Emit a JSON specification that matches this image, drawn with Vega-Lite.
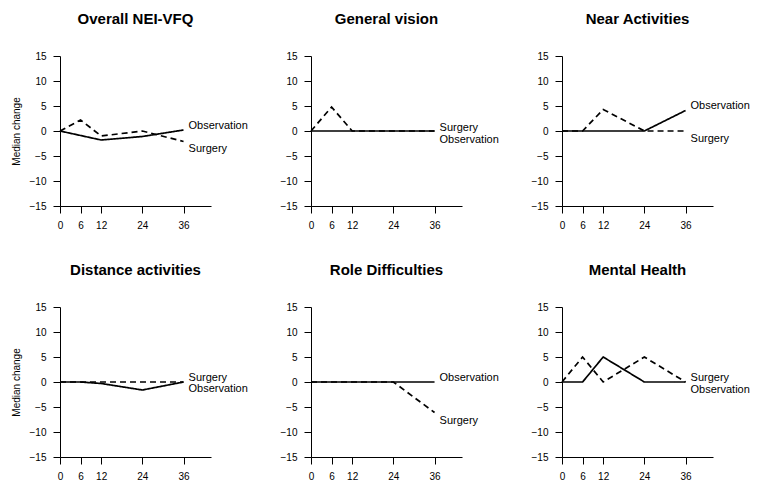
{
  "$schema": "https://vega.github.io/schema/vega-lite/v6.json",
  "padding": {"left": 11, "top": 12, "right": 5, "bottom": 5},
  "data": {"values": [
    {"kind": "line", "panel": "Overall NEI-VFQ", "series": "Observation", "month": 0, "value": 0},
    {"kind": "line", "panel": "Overall NEI-VFQ", "series": "Observation", "month": 6, "value": -0.9},
    {"kind": "line", "panel": "Overall NEI-VFQ", "series": "Observation", "month": 12, "value": -1.8},
    {"kind": "line", "panel": "Overall NEI-VFQ", "series": "Observation", "month": 24, "value": -1.1},
    {"kind": "line", "panel": "Overall NEI-VFQ", "series": "Observation", "month": 36, "value": 0.2},
    {"kind": "line", "panel": "Overall NEI-VFQ", "series": "Surgery", "month": 0, "value": 0},
    {"kind": "line", "panel": "Overall NEI-VFQ", "series": "Surgery", "month": 6, "value": 2.2},
    {"kind": "line", "panel": "Overall NEI-VFQ", "series": "Surgery", "month": 12, "value": -1.0},
    {"kind": "line", "panel": "Overall NEI-VFQ", "series": "Surgery", "month": 24, "value": 0},
    {"kind": "line", "panel": "Overall NEI-VFQ", "series": "Surgery", "month": 36, "value": -2.1},
    {"kind": "label", "panel": "Overall NEI-VFQ", "series": "Observation", "month": 36, "value": 1.0},
    {"kind": "label", "panel": "Overall NEI-VFQ", "series": "Surgery", "month": 36, "value": -3.6},

    {"kind": "line", "panel": "General vision", "series": "Observation", "month": 0, "value": 0},
    {"kind": "line", "panel": "General vision", "series": "Observation", "month": 6, "value": 0},
    {"kind": "line", "panel": "General vision", "series": "Observation", "month": 12, "value": 0},
    {"kind": "line", "panel": "General vision", "series": "Observation", "month": 24, "value": 0},
    {"kind": "line", "panel": "General vision", "series": "Observation", "month": 36, "value": 0},
    {"kind": "line", "panel": "General vision", "series": "Surgery", "month": 0, "value": 0},
    {"kind": "line", "panel": "General vision", "series": "Surgery", "month": 6, "value": 4.8},
    {"kind": "line", "panel": "General vision", "series": "Surgery", "month": 12, "value": 0},
    {"kind": "line", "panel": "General vision", "series": "Surgery", "month": 24, "value": 0},
    {"kind": "line", "panel": "General vision", "series": "Surgery", "month": 36, "value": 0},
    {"kind": "label", "panel": "General vision", "series": "Surgery", "month": 36, "value": 0.7},
    {"kind": "label", "panel": "General vision", "series": "Observation", "month": 36, "value": -1.7},

    {"kind": "line", "panel": "Near Activities", "series": "Observation", "month": 0, "value": 0},
    {"kind": "line", "panel": "Near Activities", "series": "Observation", "month": 6, "value": 0},
    {"kind": "line", "panel": "Near Activities", "series": "Observation", "month": 12, "value": 0},
    {"kind": "line", "panel": "Near Activities", "series": "Observation", "month": 24, "value": 0},
    {"kind": "line", "panel": "Near Activities", "series": "Observation", "month": 36, "value": 4.1},
    {"kind": "line", "panel": "Near Activities", "series": "Surgery", "month": 0, "value": 0},
    {"kind": "line", "panel": "Near Activities", "series": "Surgery", "month": 6, "value": 0},
    {"kind": "line", "panel": "Near Activities", "series": "Surgery", "month": 12, "value": 4.3},
    {"kind": "line", "panel": "Near Activities", "series": "Surgery", "month": 24, "value": 0},
    {"kind": "line", "panel": "Near Activities", "series": "Surgery", "month": 36, "value": 0},
    {"kind": "label", "panel": "Near Activities", "series": "Observation", "month": 36, "value": 5.1},
    {"kind": "label", "panel": "Near Activities", "series": "Surgery", "month": 36, "value": -1.6},

    {"kind": "line", "panel": "Distance activities", "series": "Observation", "month": 0, "value": 0},
    {"kind": "line", "panel": "Distance activities", "series": "Observation", "month": 6, "value": 0},
    {"kind": "line", "panel": "Distance activities", "series": "Observation", "month": 12, "value": -0.3},
    {"kind": "line", "panel": "Distance activities", "series": "Observation", "month": 24, "value": -1.6},
    {"kind": "line", "panel": "Distance activities", "series": "Observation", "month": 36, "value": 0},
    {"kind": "line", "panel": "Distance activities", "series": "Surgery", "month": 0, "value": 0},
    {"kind": "line", "panel": "Distance activities", "series": "Surgery", "month": 6, "value": 0},
    {"kind": "line", "panel": "Distance activities", "series": "Surgery", "month": 12, "value": 0},
    {"kind": "line", "panel": "Distance activities", "series": "Surgery", "month": 24, "value": 0},
    {"kind": "line", "panel": "Distance activities", "series": "Surgery", "month": 36, "value": 0},
    {"kind": "label", "panel": "Distance activities", "series": "Surgery", "month": 36, "value": 0.9},
    {"kind": "label", "panel": "Distance activities", "series": "Observation", "month": 36, "value": -1.4},

    {"kind": "line", "panel": "Role Difficulties", "series": "Observation", "month": 0, "value": 0},
    {"kind": "line", "panel": "Role Difficulties", "series": "Observation", "month": 6, "value": 0},
    {"kind": "line", "panel": "Role Difficulties", "series": "Observation", "month": 12, "value": 0},
    {"kind": "line", "panel": "Role Difficulties", "series": "Observation", "month": 24, "value": 0},
    {"kind": "line", "panel": "Role Difficulties", "series": "Observation", "month": 36, "value": 0},
    {"kind": "line", "panel": "Role Difficulties", "series": "Surgery", "month": 0, "value": 0},
    {"kind": "line", "panel": "Role Difficulties", "series": "Surgery", "month": 6, "value": 0},
    {"kind": "line", "panel": "Role Difficulties", "series": "Surgery", "month": 12, "value": 0},
    {"kind": "line", "panel": "Role Difficulties", "series": "Surgery", "month": 24, "value": 0},
    {"kind": "line", "panel": "Role Difficulties", "series": "Surgery", "month": 36, "value": -6.1},
    {"kind": "label", "panel": "Role Difficulties", "series": "Observation", "month": 36, "value": 0.9},
    {"kind": "label", "panel": "Role Difficulties", "series": "Surgery", "month": 36, "value": -7.8},

    {"kind": "line", "panel": "Mental Health", "series": "Observation", "month": 0, "value": 0},
    {"kind": "line", "panel": "Mental Health", "series": "Observation", "month": 6, "value": 0},
    {"kind": "line", "panel": "Mental Health", "series": "Observation", "month": 12, "value": 5},
    {"kind": "line", "panel": "Mental Health", "series": "Observation", "month": 24, "value": 0},
    {"kind": "line", "panel": "Mental Health", "series": "Observation", "month": 36, "value": 0},
    {"kind": "line", "panel": "Mental Health", "series": "Surgery", "month": 0, "value": 0},
    {"kind": "line", "panel": "Mental Health", "series": "Surgery", "month": 6, "value": 5},
    {"kind": "line", "panel": "Mental Health", "series": "Surgery", "month": 12, "value": 0},
    {"kind": "line", "panel": "Mental Health", "series": "Surgery", "month": 24, "value": 5},
    {"kind": "line", "panel": "Mental Health", "series": "Surgery", "month": 36, "value": 0},
    {"kind": "label", "panel": "Mental Health", "series": "Surgery", "month": 36, "value": 0.9},
    {"kind": "label", "panel": "Mental Health", "series": "Observation", "month": 36, "value": -1.5}
  ]},
  "columns": 3,
  "spacing": {"row": 101, "column": 100},
  "bounds": "flush",
  "concat": [
    {
      "title": "Overall NEI-VFQ",
      "width": 151, "height": 150,
      "transform": [{"filter": "datum.panel === 'Overall NEI-VFQ'"}],
      "layer": [
        {"transform": [{"filter": "datum.kind === 'line'"}],
         "mark": {"type": "line", "color": "black", "strokeWidth": 1.7},
         "encoding": {
           "x": {"field": "month", "type": "quantitative", "scale": {"domain": [0, 44], "nice": false}, "axis": {"values": [0, 6, 12, 24, 36], "tickCount": 20, "labelOverlap": false, "labelFlush": false, "title": null}},
           "y": {"field": "value", "type": "quantitative", "scale": {"domain": [-15, 15], "nice": false}, "axis": {"values": [-15, -10, -5, 0, 5, 10, 15], "tickCount": 20, "labelOverlap": false, "labelFlush": false, "title": "Median change"}},
           "strokeDash": {"field": "series", "type": "nominal", "scale": {"domain": ["Observation", "Surgery"], "range": [[1, 0], [6, 4]]}, "legend": null}
         }},
        {"transform": [{"filter": "datum.kind === 'label'"}],
         "mark": {"type": "text", "align": "left", "baseline": "middle", "dx": 5, "fontSize": 11, "color": "black"},
         "encoding": {
           "x": {"field": "month", "type": "quantitative"},
           "y": {"field": "value", "type": "quantitative"},
           "text": {"field": "series"}
         }}
      ]
    },
    {
      "title": "General vision",
      "width": 151, "height": 150,
      "transform": [{"filter": "datum.panel === 'General vision'"}],
      "layer": [
        {"transform": [{"filter": "datum.kind === 'line'"}],
         "mark": {"type": "line", "color": "black", "strokeWidth": 1.7},
         "encoding": {
           "x": {"field": "month", "type": "quantitative", "scale": {"domain": [0, 44], "nice": false}, "axis": {"values": [0, 6, 12, 24, 36], "tickCount": 20, "labelOverlap": false, "labelFlush": false, "title": null}},
           "y": {"field": "value", "type": "quantitative", "scale": {"domain": [-15, 15], "nice": false}, "axis": {"values": [-15, -10, -5, 0, 5, 10, 15], "tickCount": 20, "labelOverlap": false, "labelFlush": false, "title": null}},
           "strokeDash": {"field": "series", "type": "nominal", "scale": {"domain": ["Observation", "Surgery"], "range": [[1, 0], [6, 4]]}, "legend": null}
         }},
        {"transform": [{"filter": "datum.kind === 'label'"}],
         "mark": {"type": "text", "align": "left", "baseline": "middle", "dx": 5, "fontSize": 11, "color": "black"},
         "encoding": {
           "x": {"field": "month", "type": "quantitative"},
           "y": {"field": "value", "type": "quantitative"},
           "text": {"field": "series"}
         }}
      ]
    },
    {
      "title": "Near Activities",
      "width": 151, "height": 150,
      "transform": [{"filter": "datum.panel === 'Near Activities'"}],
      "layer": [
        {"transform": [{"filter": "datum.kind === 'line'"}],
         "mark": {"type": "line", "color": "black", "strokeWidth": 1.7},
         "encoding": {
           "x": {"field": "month", "type": "quantitative", "scale": {"domain": [0, 44], "nice": false}, "axis": {"values": [0, 6, 12, 24, 36], "tickCount": 20, "labelOverlap": false, "labelFlush": false, "title": null}},
           "y": {"field": "value", "type": "quantitative", "scale": {"domain": [-15, 15], "nice": false}, "axis": {"values": [-15, -10, -5, 0, 5, 10, 15], "tickCount": 20, "labelOverlap": false, "labelFlush": false, "title": null}},
           "strokeDash": {"field": "series", "type": "nominal", "scale": {"domain": ["Observation", "Surgery"], "range": [[1, 0], [6, 4]]}, "legend": null}
         }},
        {"transform": [{"filter": "datum.kind === 'label'"}],
         "mark": {"type": "text", "align": "left", "baseline": "middle", "dx": 5, "fontSize": 11, "color": "black"},
         "encoding": {
           "x": {"field": "month", "type": "quantitative"},
           "y": {"field": "value", "type": "quantitative"},
           "text": {"field": "series"}
         }}
      ]
    },
    {
      "title": "Distance activities",
      "width": 151, "height": 150,
      "transform": [{"filter": "datum.panel === 'Distance activities'"}],
      "layer": [
        {"transform": [{"filter": "datum.kind === 'line'"}],
         "mark": {"type": "line", "color": "black", "strokeWidth": 1.7},
         "encoding": {
           "x": {"field": "month", "type": "quantitative", "scale": {"domain": [0, 44], "nice": false}, "axis": {"values": [0, 6, 12, 24, 36], "tickCount": 20, "labelOverlap": false, "labelFlush": false, "title": null}},
           "y": {"field": "value", "type": "quantitative", "scale": {"domain": [-15, 15], "nice": false}, "axis": {"values": [-15, -10, -5, 0, 5, 10, 15], "tickCount": 20, "labelOverlap": false, "labelFlush": false, "title": "Median change"}},
           "strokeDash": {"field": "series", "type": "nominal", "scale": {"domain": ["Observation", "Surgery"], "range": [[1, 0], [6, 4]]}, "legend": null}
         }},
        {"transform": [{"filter": "datum.kind === 'label'"}],
         "mark": {"type": "text", "align": "left", "baseline": "middle", "dx": 5, "fontSize": 11, "color": "black"},
         "encoding": {
           "x": {"field": "month", "type": "quantitative"},
           "y": {"field": "value", "type": "quantitative"},
           "text": {"field": "series"}
         }}
      ]
    },
    {
      "title": "Role Difficulties",
      "width": 151, "height": 150,
      "transform": [{"filter": "datum.panel === 'Role Difficulties'"}],
      "layer": [
        {"transform": [{"filter": "datum.kind === 'line'"}],
         "mark": {"type": "line", "color": "black", "strokeWidth": 1.7},
         "encoding": {
           "x": {"field": "month", "type": "quantitative", "scale": {"domain": [0, 44], "nice": false}, "axis": {"values": [0, 6, 12, 24, 36], "tickCount": 20, "labelOverlap": false, "labelFlush": false, "title": null}},
           "y": {"field": "value", "type": "quantitative", "scale": {"domain": [-15, 15], "nice": false}, "axis": {"values": [-15, -10, -5, 0, 5, 10, 15], "tickCount": 20, "labelOverlap": false, "labelFlush": false, "title": null}},
           "strokeDash": {"field": "series", "type": "nominal", "scale": {"domain": ["Observation", "Surgery"], "range": [[1, 0], [6, 4]]}, "legend": null}
         }},
        {"transform": [{"filter": "datum.kind === 'label'"}],
         "mark": {"type": "text", "align": "left", "baseline": "middle", "dx": 5, "fontSize": 11, "color": "black"},
         "encoding": {
           "x": {"field": "month", "type": "quantitative"},
           "y": {"field": "value", "type": "quantitative"},
           "text": {"field": "series"}
         }}
      ]
    },
    {
      "title": "Mental Health",
      "width": 151, "height": 150,
      "transform": [{"filter": "datum.panel === 'Mental Health'"}],
      "layer": [
        {"transform": [{"filter": "datum.kind === 'line'"}],
         "mark": {"type": "line", "color": "black", "strokeWidth": 1.7},
         "encoding": {
           "x": {"field": "month", "type": "quantitative", "scale": {"domain": [0, 44], "nice": false}, "axis": {"values": [0, 6, 12, 24, 36], "tickCount": 20, "labelOverlap": false, "labelFlush": false, "title": null}},
           "y": {"field": "value", "type": "quantitative", "scale": {"domain": [-15, 15], "nice": false}, "axis": {"values": [-15, -10, -5, 0, 5, 10, 15], "tickCount": 20, "labelOverlap": false, "labelFlush": false, "title": null}},
           "strokeDash": {"field": "series", "type": "nominal", "scale": {"domain": ["Observation", "Surgery"], "range": [[1, 0], [6, 4]]}, "legend": null}
         }},
        {"transform": [{"filter": "datum.kind === 'label'"}],
         "mark": {"type": "text", "align": "left", "baseline": "middle", "dx": 5, "fontSize": 11, "color": "black"},
         "encoding": {
           "x": {"field": "month", "type": "quantitative"},
           "y": {"field": "value", "type": "quantitative"},
           "text": {"field": "series"}
         }}
      ]
    }
  ],
  "config": {
    "view": {"stroke": null},
    "font": "Liberation Sans",
    "axis": {
      "grid": false,
      "domainColor": "black",
      "tickColor": "black",
      "labelColor": "black",
      "labelFont": "Liberation Sans",
      "labelFontSize": 10,
      "tickSize": 7,
      "domainWidth": 1,
      "tickWidth": 1,
      "titleFont": "Liberation Sans",
      "titleFontSize": 10,
      "titleFontWeight": "normal",
      "titleColor": "black"
    },
    "axisY": {"labelPadding": 7, "titlePadding": 8},
    "axisX": {"labelPadding": 7},
    "title": {"font": "Liberation Sans", "fontSize": 15, "fontWeight": "bold", "color": "black", "offset": 24},
    "text": {"font": "Liberation Sans"}
  }
}
